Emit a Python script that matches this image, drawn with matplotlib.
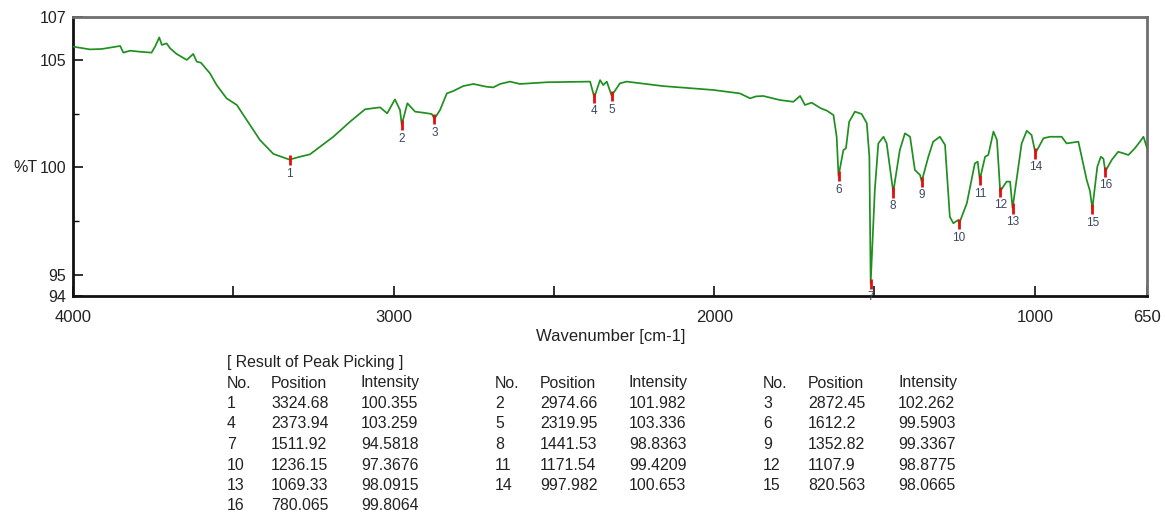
import matplotlib
matplotlib.use("Agg")
import matplotlib.pyplot as plt
from matplotlib.ticker import FixedLocator

# Spectrum (wavenumber in cm-1, transmittance in %T)
wavenumber = [4000, 3947, 3910, 3853, 3843, 3822, 3790, 3755, 3744, 3731, 3723, 3708,
              3697, 3677, 3645, 3625, 3614, 3601, 3573, 3552, 3521, 3489, 3458, 3417,
              3375, 3324.68, 3292, 3261, 3188, 3136, 3089, 3042, 3020, 2996, 2980,
              2974.66, 2957, 2933, 2907, 2881, 2872.45, 2855, 2834, 2814, 2783, 2751,
              2710, 2689, 2668, 2637, 2606, 2522, 2387, 2373.94, 2356, 2346, 2335,
              2319.95, 2294, 2273, 2159, 2003, 1920, 1888, 1870, 1847, 1795, 1753,
              1732, 1717, 1696, 1668, 1649, 1628, 1618, 1612.2, 1597, 1589, 1579, 1561,
              1540, 1524, 1516, 1511.92, 1499, 1488, 1472, 1462, 1441.53, 1421, 1405,
              1389, 1374, 1358, 1352.82, 1332, 1317, 1296, 1280, 1265, 1254, 1239,
              1236.15, 1212, 1187, 1178, 1171.54, 1155, 1145, 1129, 1118, 1107.9, 1088,
              1077, 1069.33, 1041, 1025, 1010, 997.982, 973, 953, 916, 901, 864, 838,
              828, 820.563, 805, 794, 786, 780.065, 760, 740, 724, 708, 688, 672, 661,
              651, 650]
transmittance = [105.62, 105.49, 105.51, 105.65, 105.34, 105.43, 105.38, 105.34, 105.62,
                 106.05, 105.70, 105.77, 105.54, 105.28, 105.00, 105.28, 104.92, 104.87,
                 104.38, 103.83, 103.21, 102.90, 102.20, 101.27, 100.62, 100.355, 100.49,
                 100.60, 101.42, 102.12, 102.70, 102.79, 102.51, 103.16, 102.67, 101.982,
                 102.98, 102.59, 102.54, 102.48, 102.262, 102.67, 103.44, 103.55, 103.78,
                 103.88, 103.75, 103.72, 103.88, 103.99, 103.88, 103.96, 103.99, 103.259,
                 104.06, 103.83, 103.99, 103.336, 103.91, 103.99, 103.78, 103.60, 103.44,
                 103.21, 103.30, 103.32, 103.13, 103.05, 103.32, 102.90, 103.01, 102.75,
                 102.64, 102.43, 101.42, 99.5903, 100.80, 100.88, 102.12, 102.59, 102.48,
                 102.05, 100.49, 94.5818, 98.94, 101.11, 101.42, 101.11, 98.8363, 100.80,
                 101.58, 101.42, 99.87, 99.64, 99.3367, 100.49, 101.19, 101.42, 101.04,
                 97.69, 97.39, 97.54, 97.3676, 98.32, 100.18, 100.26, 99.4209, 100.49,
                 100.57, 101.66, 101.27, 98.8775, 99.33, 99.33, 98.0915, 101.11, 101.70,
                 101.50, 100.653, 101.35, 101.42, 101.42, 101.11, 101.19, 99.40, 98.90,
                 98.0665, 100.02, 100.49, 100.40, 99.8064, 100.34, 100.72, 100.65, 100.57,
                 100.88, 101.19, 101.42, 100.96, 100.90]

# Picked peaks
peak_no = [1, 2, 3, 4, 5, 6, 7, 8, 9, 10, 11, 12, 13, 14, 15, 16]
peak_pos = ["3324.68", "2974.66", "2872.45", "2373.94", "2319.95", "1612.2", "1511.92",
            "1441.53", "1352.82", "1236.15", "1171.54", "1107.9", "1069.33", "997.982",
            "820.563", "780.065"]
peak_int = ["100.355", "101.982", "102.262", "103.259", "103.336", "99.5903", "94.5818",
            "98.8363", "99.3367", "97.3676", "99.4209", "98.8775", "98.0915", "100.653",
            "98.0665", "99.8064"]

x_ticks = [4000, 3000, 2000, 1000, 650]
x_minor = [3500, 2500, 1500]
y_ticks = [94, 95, 100, 105, 107]
y_minor = [97.5, 102.5]

FONT = "Liberation Sans"
plt.rcParams["font.family"] = FONT

W, H = 1166, 515
fig = plt.figure(figsize=(W / 100, H / 100), dpi=100)
ax = fig.add_axes([73 / W, 1 - 296 / H, (1147 - 73) / W, (296 - 17) / H])

ax.plot(wavenumber, transmittance, color="#1f8f1f", lw=1.25, zorder=3)
ax.set_xlim(4000, 650)
ax.set_ylim(94, 107)

# peak markers and numbers
for n, p, t in zip(peak_no, peak_pos, peak_int):
    xv, yv = float(p), float(t)
    ax.plot([xv, xv], [yv + 0.22, yv - 0.25], color="#e01010", lw=2.0,
            solid_capstyle="butt", zorder=4, clip_on=False)
    ax.annotate(str(n), (xv, yv), xytext=(0, -10), textcoords="offset points",
                ha="center", va="center", fontsize=8.5, color="#3c4660", zorder=5,
                annotation_clip=False)

ax.xaxis.set_major_locator(FixedLocator(x_ticks))
ax.xaxis.set_minor_locator(FixedLocator(x_minor))
ax.set_xticklabels([str(v) for v in x_ticks])
ax.yaxis.set_major_locator(FixedLocator(y_ticks))
ax.yaxis.set_minor_locator(FixedLocator(y_minor))
ax.set_yticklabels([str(v) for v in y_ticks])

ax.tick_params(axis="x", which="both", direction="in", length=7, width=1.3,
               labelsize=12, pad=10, colors="#222222", top=False)
ax.tick_params(axis="y", which="major", direction="in", length=7, width=1.3,
               labelsize=11.5, pad=5, colors="#222222", right=False)
ax.tick_params(axis="y", which="minor", direction="in", length=4, width=1.0, right=False)

for side in ("left", "bottom"):
    ax.spines[side].set_color("#111111")
    ax.spines[side].set_linewidth(2.0)
for side in ("top", "right"):
    ax.spines[side].set_color("#6e6e6e")
    ax.spines[side].set_linewidth(2.0)

fig.text(25 / W, 1 - 168 / H, "%T", ha="center", va="center", fontsize=11.5, color="#222222")
fig.text(611 / W, 1 - 337 / H, "Wavenumber [cm-1]", ha="center", va="center",
         fontsize=12, color="#222222")

# peak table
TFS = 11.4
fig.text(227 / W, 1 - 362 / H, "[ Result of Peak Picking ]", ha="left", va="center",
         fontsize=TFS, color="#222222")
group_x = [(227, 271, 361), (495, 540, 629), (763, 808, 898)]
row_y0, row_dy = 383, 20.5
for gx in group_x:
    for hx, h in zip(gx, ("No.", "Position", "Intensity")):
        fig.text(hx / W, 1 - row_y0 / H, h, ha="left", va="center", fontsize=TFS,
                 color="#222222")
for i, (n, p, t) in enumerate(zip(peak_no, peak_pos, peak_int)):
    gx = group_x[i % 3]
    yy = row_y0 + row_dy * (i // 3 + 1)
    for hx, s in zip(gx, (str(n), p, t)):
        fig.text(hx / W, 1 - yy / H, s, ha="left", va="center", fontsize=TFS,
                 color="#222222")

fig.savefig("out.png", dpi=100)
